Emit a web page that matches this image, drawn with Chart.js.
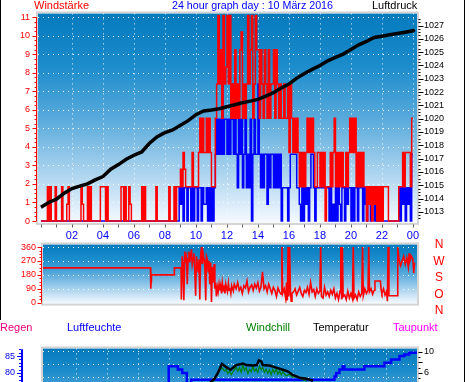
<!DOCTYPE html>
<html><head><meta charset="utf-8">
<script src="https://cdn.jsdelivr.net/npm/chart.js@4/dist/chart.umd.min.js"></script>
<style>
html,body{margin:0;padding:0;background:#fff;width:470px;height:382px;overflow:hidden;position:relative;font-family:"Liberation Sans",Arial,sans-serif;}
canvas{position:absolute;left:0;}
.t{position:absolute;font-size:11px;line-height:11px;white-space:nowrap;}
.d{position:absolute;font-size:12px;line-height:12px;color:#f00;width:14px;text-align:center;}
.f{position:absolute;background:#000;}
</style></head><body>
<canvas id="c1" width="470" height="250" style="top:0"></canvas>
<canvas id="c2" width="470" height="84" style="top:232px"></canvas>
<canvas id="c3" width="470" height="160" style="top:315px"></canvas>

<div class="t" style="left:34px;top:0;color:#f00">Windstärke</div>
<div class="t" style="left:172px;top:0;color:#00f;font-size:10.7px">24 hour graph day : 10 März 2016</div>
<div class="t" style="left:372px;top:0;color:#000">Luftdruck</div>

<div class="d" style="left:432px;top:238px">N</div>
<div class="d" style="left:432px;top:255px">W</div>
<div class="d" style="left:432px;top:271px">S</div>
<div class="d" style="left:432px;top:288px">O</div>
<div class="d" style="left:432px;top:304px">N</div>

<div class="t" style="left:0;top:322px;color:#e6007e">Regen</div>
<div class="t" style="left:67px;top:322px;color:#00f">Luftfeuchte</div>
<div class="t" style="left:246px;top:322px;color:#008000">Windchill</div>
<div class="t" style="left:313px;top:322px;color:#000">Temperatur</div>
<div class="t" style="left:393px;top:322px;color:#f0f">Taupunkt</div>

<div class="f" style="left:0;top:0;width:1px;height:320px"></div>
<div class="f" style="left:464px;top:0;width:1px;height:382px"></div>

<script>
// ---------- DATA ----------
// 5-minute sampling grid (hours) for the wind series
const windTimes = Array.from({length: 289}, (_, i) => i / 12);
// Wind gusts (Böen), Beaufort, 12 values per hour
const windGust = [
 0,0,0,0,0,0,1.85,0,1.85,0,0,0,
 1.85,0,0,0,0,1.85,0,0,0,0.9,1.85,0,
 0,0,0,0,0,0,0,0,1.85,0.9,0,0,
 0,1.85,0,1.85,0,0,0,0,0,0,0,1.85,
 1.85,1.85,1.85,0,1.85,0,0,0,0,0,0,0,
 0,0,0,1.85,1.85,0,1.85,0,0,1.85,0.9,0,
 0,0,0,0,0,0,0,1.85,0,1.85,0,0,
 0,0,0,0,0,0,1.85,0,0,0,0,0,
 0,0,0,0,1.85,0,0,0,1.85,0,1.85,1.85,
 1.85,2.8,1.85,3.7,2.8,1.85,1.85,1.85,1.85,1.85,3.7,1.85,
 1.85,1.85,1.85,3.7,5.55,3.7,5.55,3.7,3.7,5.55,3.7,5.55,
 3.7,1.85,1.85,1.85,5.55,7.4,11.1,7.4,9.25,5.55,11.1,7.4,
 8.3,11.1,7.4,11.1,5.55,7.4,5.55,9.25,5.55,7.4,5.55,9.25,
 10.2,5.55,7.4,5.55,7.4,11.1,7.4,9.25,11.1,5.55,7.4,11.1,
 9.25,9.25,5.55,9.25,7.4,5.55,9.25,7.4,5.55,9.25,5.55,7.4,
 7.4,9.25,5.55,9.25,7.4,5.55,7.4,5.55,5.55,7.4,5.55,5.55,
 7.4,3.7,7.4,5.55,3.7,5.55,3.7,5.55,3.7,1.85,3.7,1.85,
 3.7,1.85,3.7,5.55,3.7,5.55,3.7,5.55,3.7,1.85,1.85,3.7,
 3.7,1.85,3.7,1.85,3.7,0,1.85,1.85,1.85,3.7,1.85,3.7,
 5.55,1.85,3.7,1.85,3.7,1.85,3.7,1.85,1.85,3.7,1.85,3.7,
 5.55,3.7,5.55,3.7,5.55,1.85,3.7,1.85,3.7,1.85,3.7,1.85,
 1.85,0,1.85,0.9,1.85,0,1.85,0.9,1.85,0,1.85,0,
 1.85,0,1.85,1.85,1.85,1.85,0,0,0,0,0,0,
 0,0,1.85,1.85,1.85,3.7,1.85,3.7,3.7,3.7,3.7,1.85,
 5.55];
// Average wind, Beaufort
const windAvg = [
 0,0,0,0,0,0,0,0,0,0,0,0,
 0,0,0,0,0,0,0,0,0,0,0,0,
 0,0,0,0,0,0,0,0,0,0,0,0,
 0,0,0,0,0,0,0,0,0,0,0,0,
 0,0,0,0,0,0,0,0,0,0,0,0,
 0,0,0,0,0,0,0,0,0,0,0,0,
 0,0,0,0,0,0,0,0,0,0,0,0,
 0,0,0,0,0,0,0,0,0,0,0,0,
 0,0,0,0,0,0,0,0,0,0,0,0,
 1.8,0.9,1.8,0,1.8,1.8,0,1.8,1.8,0,1.8,0,
 1.8,1.8,0,1.8,1.8,0,1.8,0.9,0.9,1.8,0,1.8,
 0,1.8,0,1.8,3.6,5.5,3.6,5.5,3.6,7.4,3.6,5.5,
 5.5,3.6,5.5,3.6,5.5,7.4,3.6,7.4,3.6,1.8,5.5,3.6,
 5.5,1.8,3.6,5.5,1.8,3.6,1.8,5.5,0,3.6,5.5,3.6,
 3.6,7.4,3.6,1.8,3.6,1.8,3.6,3.6,0.9,3.6,1.8,3.6,
 3.6,1.8,3.6,1.8,3.6,1.8,3.6,0,1.8,1.8,1.8,1.8,
 0,1.8,3.6,3.6,3.6,3.6,3.6,1.8,1.8,0.9,0,1.8,
 0,1.8,0.9,1.8,0,1.8,3.6,3.6,1.8,0,1.8,1.8,
 1.8,1.8,1.8,1.8,1.8,1.8,1.8,1.8,0,1.8,0,0.9,
 0,1.8,0,1.8,0.9,0,1.8,1.8,0,1.8,0.9,1.8,
 1.8,0,1.8,0,1.8,1.8,0,1.8,1.8,1.8,0,1.8,
 0.9,0,1.8,0.9,0,0.9,1.8,0,0.9,0,0.9,0,
 0,0,0,0,0,0,0,0,0,0,0,0,
 0,0,1.8,0,1.8,0.9,1.8,0,1.8,0.9,1.8,0,
 3.6];
// Air pressure (hPa), every half hour
const pressureHours = [0,0.5,1,1.5,2,2.5,3,3.5,4,4.5,5,5.5,6,6.5,7,7.5,8,8.5,9,9.5,10,10.5,11,11.5,12,12.5,13,13.5,14,14.5,15,15.5,16,16.5,17,17.5,18,18.5,19,19.5,20,20.5,21,21.5,22,22.5,23,23.5,24,24.1];
const pressure = [1013.35,1013.7,1013.95,1014.4,1014.75,1014.93,1015.1,1015.4,1015.65,1016.2,1016.55,1016.95,1017.25,1017.5,1018.15,1018.65,1018.95,1019.15,1019.5,1019.85,1020.3,1020.58,1020.65,1020.75,1020.9,1021.05,1021.2,1021.32,1021.45,1021.7,1021.95,1022.3,1022.6,1023.05,1023.4,1023.7,1024.0,1024.35,1024.6,1024.85,1025.2,1025.55,1025.8,1026.1,1026.2,1026.3,1026.4,1026.5,1026.6,1026.7];
// Wind direction (degrees)
const dirHours = [0,7.08,7.1,7.12,7.14,8.6,8.62,9.05,9.07,9.12,9.18,9.23,9.29,9.35,9.4,9.45,9.5,9.56,9.61,9.66,9.72,9.77,9.83,9.88,9.94,9.99,10.04,10.09,10.15,10.2,10.26,10.31,10.37,10.42,10.47,10.53,10.58,10.64,10.69,10.75,10.8,10.85,10.9,10.96,11.01,11.07,11.12,11.18,11.23,11.28,11.33,11.39,11.44,11.5,11.55,11.6,11.66,11.71,11.77,11.82,11.88,11.93,11.99,12.04,12.1,12.15,12.2,12.26,12.31,12.37,12.42,12.48,12.6,12.7,12.8,12.9,13.0,13.1,13.2,13.3,13.4,13.5,13.6,13.7,13.8,13.9,14.0,14.1,14.2,14.3,14.4,14.5,14.6,14.7,14.8,14.9,15.0,15.1,15.2,15.3,15.4,15.5,15.55,15.6,15.7,15.8,15.85,15.9,15.95,16.0,16.05,16.1,16.15,16.2,16.3,16.4,16.5,16.6,16.7,16.8,16.9,17.0,17.1,17.2,17.3,17.4,17.5,17.6,17.7,17.8,17.9,18.0,18.05,18.1,18.2,18.3,18.4,18.5,18.6,18.7,18.8,18.9,19.0,19.1,19.2,19.3,19.35,19.4,19.45,19.5,19.6,19.7,19.8,19.9,20.0,20.1,20.15,20.2,20.3,20.4,20.5,20.6,20.7,20.75,20.8,20.9,21.0,21.1,21.15,21.2,21.3,21.4,21.5,21.55,21.9,21.95,22.0,22.1,22.2,22.3,22.35,22.4,22.45,23.0,23.02,23.1,23.2,23.3,23.4,23.5,23.6,23.7,23.75,23.8,23.9,24.0,24.05,24.1];
const dirDeg = [225,225,90,135,180,180,225,225,20,300,250,15,330,280,300,120,280,330,260,300,345,250,290,320,200,45,300,260,200,280,20,300,360,250,320,280,240,15,300,280,200,270,120,260,5,230,130,250,90,130,40,100,70,120,80,110,60,130,85,100,60,120,90,70,125,80,95,60,110,90,75,120,90,130,80,100,60,110,95,140,70,100,115,80,120,95,130,75,100,200,90,110,70,120,90,60,100,80,40,95,70,55,360,60,90,25,130,15,360,40,360,80,10,60,70,90,50,75,100,60,40,80,65,100,55,130,70,85,40,90,60,75,360,40,30,100,50,70,40,80,55,90,30,60,20,75,360,20,360,40,50,20,75,30,60,25,360,30,50,20,70,40,60,360,45,90,60,80,360,70,90,55,80,140,140,80,60,90,50,75,10,360,45,45,360,280,240,270,300,250,290,230,320,270,300,280,190,260];
// Temperature (°C)
const tempHours = [10.5,10.95,11.15,11.43,11.71,11.99,12.35,12.67,12.78,12.99,13.42,13.68,13.81,13.96,14.06,14.49,14.93,15.35,15.67,16.0,16.43,16.86,17.3];
const temperature = [3.6,4.9,5.9,7.7,7.1,6.6,7.5,7.7,7.8,7.5,7.4,7.5,8.4,8.2,7.5,7.4,7.0,6.6,6.3,5.6,5.1,4.9,4.5];
// Windchill (°C)
const chillHours = [10.6,10.95,11.17,11.32,11.45,11.6,11.7,11.81,11.92,12.03,12.13,12.24,12.35,12.45,12.56,12.67,12.78,12.88,12.99,13.1,13.21,13.32,13.42,13.53,13.64,13.74,13.85,13.96,14.06,14.17,14.28,14.39,14.49,14.6,14.71,14.82,14.93,15.03,15.14,15.25,15.35,15.57,15.78,16.0,16.21,16.54,16.9];
const windchill = [3.5,4.75,6.1,6.67,6.95,6.34,6.67,5.9,6.34,5.66,6.2,6.58,7.12,6.34,7.03,6.1,7.5,6.48,6.95,5.9,6.67,6.2,7.26,6.34,6.8,6.1,7.26,6.58,7.03,6.1,6.67,5.9,6.58,5.66,6.67,6.0,6.8,5.75,6.34,5.66,6.2,5.44,5.75,5.2,5.3,4.84,4.4];
// Relative humidity (%)
const humHours = [8.0,8.59,8.87,9.17,9.45,18.68,18.79,19.0,19.21,19.32,20.61,21.9,22.33,22.87,23.19,23.5,23.7,24.0];
const humidity = [77,82,81,80,77,78,79,80,81,82,81,82,83,84,85,85.5,86,86];
// Axis tick values
const windTicks = [0,1,2,3,4,5,6,7,8,9,10,11];
const pressTicks = [1013,1014,1015,1016,1017,1018,1019,1020,1021,1022,1023,1024,1025,1026,1027];
const hourGrid = [2,4,6,8,10,12,14,16,18,20,22,24];
const dirTicks = [0,90,180,270,360];
const rainGrid = [5,6,7];

// ---------- DRAWING ----------
const FONT = '"Liberation Sans", Arial, sans-serif';
const GRAD = [[0,'rgb(4,122,190)'],[0.25,'rgb(28,140,204)'],[0.5,'rgb(88,170,220)'],[0.75,'rgb(168,210,238)'],[1,'rgb(246,250,255)']];
const pts = (xs, ys) => xs.map((x, i) => ({x, y: ys[i]}));

const decor = {
  id: 'decor',
  beforeDatasetsDraw(chart, args, o) {
    const {ctx, chartArea: a} = chart;
    ctx.save();
    const g = ctx.createLinearGradient(0, a.top, 0, a.bottom);
    GRAD.forEach(([s, c]) => g.addColorStop(s, c));
    ctx.fillStyle = g;
    ctx.fillRect(a.left, a.top, a.right - a.left, a.bottom - a.top);
    ctx.strokeStyle = 'rgba(255,255,255,0.95)';
    ctx.lineWidth = 1;
    ctx.setLineDash([1, 4]);
    if (o.hGrid) {
      const s = chart.scales[o.hGrid.scale];
      o.hGrid.values.forEach(v => {
        const y = Math.round(s.getPixelForValue(v)) + 0.5;
        ctx.beginPath(); ctx.moveTo(a.left, y); ctx.lineTo(a.right, y); ctx.stroke();
      });
    }
    if (o.vGrid) {
      const s = chart.scales[o.vGrid.scale];
      o.vGrid.values.forEach(v => {
        const x = Math.round(s.getPixelForValue(v)) + 0.5;
        ctx.beginPath(); ctx.moveTo(x, a.top); ctx.lineTo(x, a.bottom); ctx.stroke();
      });
    }
    ctx.restore();
  },
  afterDraw(chart, args, o) {
    const {ctx, chartArea: a} = chart;
    ctx.save();
    ctx.strokeStyle = '#d4d4d4'; ctx.lineWidth = 2;
    ctx.strokeRect(a.left - 1, a.top - 1, a.right - a.left + 2, a.bottom - a.top + 2);
    (o.axes || []).forEach(ax => {
      const s = chart.scales[ax.scale];
      ctx.strokeStyle = ax.color;
      if (ax.line) {
        ctx.lineWidth = ax.lw || 1;
        const p1 = s.getPixelForValue(ax.from), p2 = s.getPixelForValue(ax.to);
        ctx.beginPath();
        if (ax.dir === 'y') { ctx.moveTo(ax.pos, p1); ctx.lineTo(ax.pos, p2); }
        else { ctx.moveTo(p1, ax.pos); ctx.lineTo(p2, ax.pos); }
        ctx.stroke();
      }
      ctx.lineWidth = 1;
      const n = Math.round((ax.to - ax.from) / ax.minor);
      const sign = ax.sign;
      for (let i = 0; i <= n; i++) {
        const v = ax.from + i * ax.minor;
        const major = Math.abs(v / ax.major - Math.round(v / ax.major)) < 1e-6;
        const len = major ? ax.majLen : ax.minLen;
        const p = Math.round(s.getPixelForValue(v)) + 0.5;
        ctx.beginPath();
        if (ax.dir === 'y') { ctx.moveTo(ax.tickPos, p); ctx.lineTo(ax.tickPos + sign * len, p); }
        else { ctx.moveTo(p, ax.tickPos); ctx.lineTo(p, ax.tickPos + sign * len); }
        ctx.stroke();
      }
    });
    ctx.restore();
  }
};
Chart.register(decor);

const base = {
  responsive: false, animation: false, events: [],
  plugins: {legend: {display: false}, tooltip: {enabled: false}}
};
const lineDs = (extra) => Object.assign({pointRadius: 0, tension: 0, fill: false, clip: 0}, extra);
const fitW = w => s => { s.width = w; };
const fitH = h => s => { s.height = h; };
const plain = v => String(v);

// ---- Panel 1: wind speed + pressure ----
new Chart(document.getElementById('c1'), {
  type: 'line',
  data: {datasets: [
    lineDs({data: pts(pressureHours, pressure), yAxisID: 'yP', borderColor: '#000', borderWidth: 3.5, order: 0}),
    lineDs({data: pts(windTimes, windGust), yAxisID: 'yW', borderColor: '#ff0000', borderWidth: 1.5, stepped: 'after', order: 1}),
    lineDs({data: pts(windTimes, windAvg), yAxisID: 'yW', borderColor: '#0000ff', borderWidth: 1.5, stepped: 'after', order: 2})
  ]},
  options: Object.assign({}, base, {
    layout: {padding: {top: 11}},
    plugins: Object.assign({}, base.plugins, {decor: {
      hGrid: {scale: 'yW', values: windTicks.slice(1)},
      vGrid: {scale: 'x', values: hourGrid},
      axes: [
        {scale: 'yW', dir: 'y', line: true, pos: 36.5, from: 0, to: 11, color: '#f00', tickPos: 36.5, sign: -1, major: 1, minor: 0.25, majLen: 4, minLen: 2},
        {scale: 'yP', dir: 'y', line: false, from: 1012.5, to: 1027.5, color: '#000', tickPos: 418.5, sign: 1, major: 1, minor: 0.25, majLen: 5, minLen: 2},
        {scale: 'x', dir: 'x', line: false, from: 0, to: 24, color: '#606060', tickPos: 224.5, sign: 1, major: 2, minor: 1, majLen: 3, minLen: 3}
      ]
    }}),
    scales: {
      x: {type: 'linear', min: -0.19, max: 24.26, afterFit: fitH(27),
          grid: {display: false, drawTicks: false}, border: {display: false},
          ticks: {stepSize: 1, includeBounds: false, autoSkip: false, maxRotation: 0, padding: 6, color: '#0000ff',
                  font: {family: FONT, size: 11},
                  callback: v => (v > 0 && v % 2 === 0) ? String(v % 24).padStart(2, '0') : ''}},
      yW: {position: 'left', min: -0.107, max: 11.21, afterFit: fitW(38),
           grid: {display: false, drawTicks: false}, border: {display: false},
           ticks: {stepSize: 1, includeBounds: false, padding: 8, color: '#ff0000', font: {family: FONT, size: 9}, callback: plain}},
      yP: {position: 'right', min: 1012.16, max: 1027.91, afterFit: fitW(53),
           grid: {display: false, drawTicks: false}, border: {display: false},
           ticks: {stepSize: 1, includeBounds: false, padding: 7, color: '#000', font: {family: FONT, size: 9}, callback: plain}}
    }
  })
});

// ---- Panel 2: wind direction ----
new Chart(document.getElementById('c2'), {
  type: 'line',
  data: {datasets: [
    lineDs({data: pts(dirHours, dirDeg), yAxisID: 'yD', borderColor: '#ff0000', borderWidth: 1.6})
  ]},
  options: Object.assign({}, base, {
    layout: {padding: {top: 10, bottom: 7}},
    plugins: Object.assign({}, base.plugins, {decor: {
      hGrid: {scale: 'yD', values: dirTicks.slice(1)},
      axes: [
        {scale: 'yD', dir: 'y', line: true, pos: 41.5, from: 0, to: 360, color: '#f00', tickPos: 41.5, sign: -1, major: 90, minor: 22.5, majLen: 4, minLen: 2}
      ]
    }}),
    scales: {
      x: {type: 'linear', min: 0.15, max: 24.26, display: false},
      yD: {position: 'left', min: -6, max: 377, afterFit: fitW(43),
           grid: {display: false, drawTicks: false}, border: {display: false},
           ticks: {stepSize: 90, includeBounds: false, padding: 7, color: '#ff0000', font: {family: FONT, size: 9}, callback: plain}},
      yR: {position: 'right', display: true, min: 0, max: 1, afterFit: fitW(53),
           grid: {display: false, drawTicks: false}, border: {display: false}, ticks: {display: false}}
    }
  })
});

// ---- Panel 3: humidity / temperature ----
new Chart(document.getElementById('c3'), {
  type: 'line',
  data: {datasets: [
    lineDs({data: pts(tempHours, temperature), yAxisID: 'yT', borderColor: '#000', borderWidth: 2.5, order: 0}),
    lineDs({data: pts(chillHours, windchill), yAxisID: 'yT', borderColor: '#008000', borderWidth: 1.2, order: 1}),
    lineDs({data: pts(humHours, humidity), yAxisID: 'yH', borderColor: '#0000ff', borderWidth: 2.5, stepped: 'after', order: 2})
  ]},
  options: Object.assign({}, base, {
    layout: {padding: {top: 25, bottom: 5}},
    plugins: Object.assign({}, base.plugins, {decor: {
      hGrid: {scale: 'yR', values: rainGrid},
      vGrid: {scale: 'x', values: hourGrid.slice(0, 11)},
      axes: [
        {scale: 'yH', dir: 'y', line: true, lw: 2, pos: 22, from: 60, to: 87, color: '#00f', tickPos: 21, sign: -1, major: 5, minor: 1, majLen: 4, minLen: 2},
        {scale: 'yT', dir: 'y', line: false, from: -7, to: 10, color: '#000', tickPos: 418.5, sign: 1, major: 2, minor: 1, majLen: 4, minLen: 2}
      ]
    }}),
    scales: {
      x: {type: 'linear', min: -0.1, max: 24.0, display: false},
      yH: {position: 'left', min: 59.72, max: 87.27, afterFit: fitW(43),
           grid: {display: false, drawTicks: false}, border: {display: false},
           ticks: {stepSize: 5, includeBounds: false, padding: 28, color: '#0000ff', font: {family: FONT, size: 9}, callback: plain}},
      yT: {position: 'right', min: -7.12, max: 10.68, afterFit: fitW(53),
           grid: {display: false, drawTicks: false}, border: {display: false},
           ticks: {stepSize: 2, includeBounds: false, padding: 7, color: '#000', font: {family: FONT, size: 9}, callback: plain}},
      yR: {position: 'left', display: false, min: 0, max: 7.22}
    }
  })
});
</script>
</body></html>
